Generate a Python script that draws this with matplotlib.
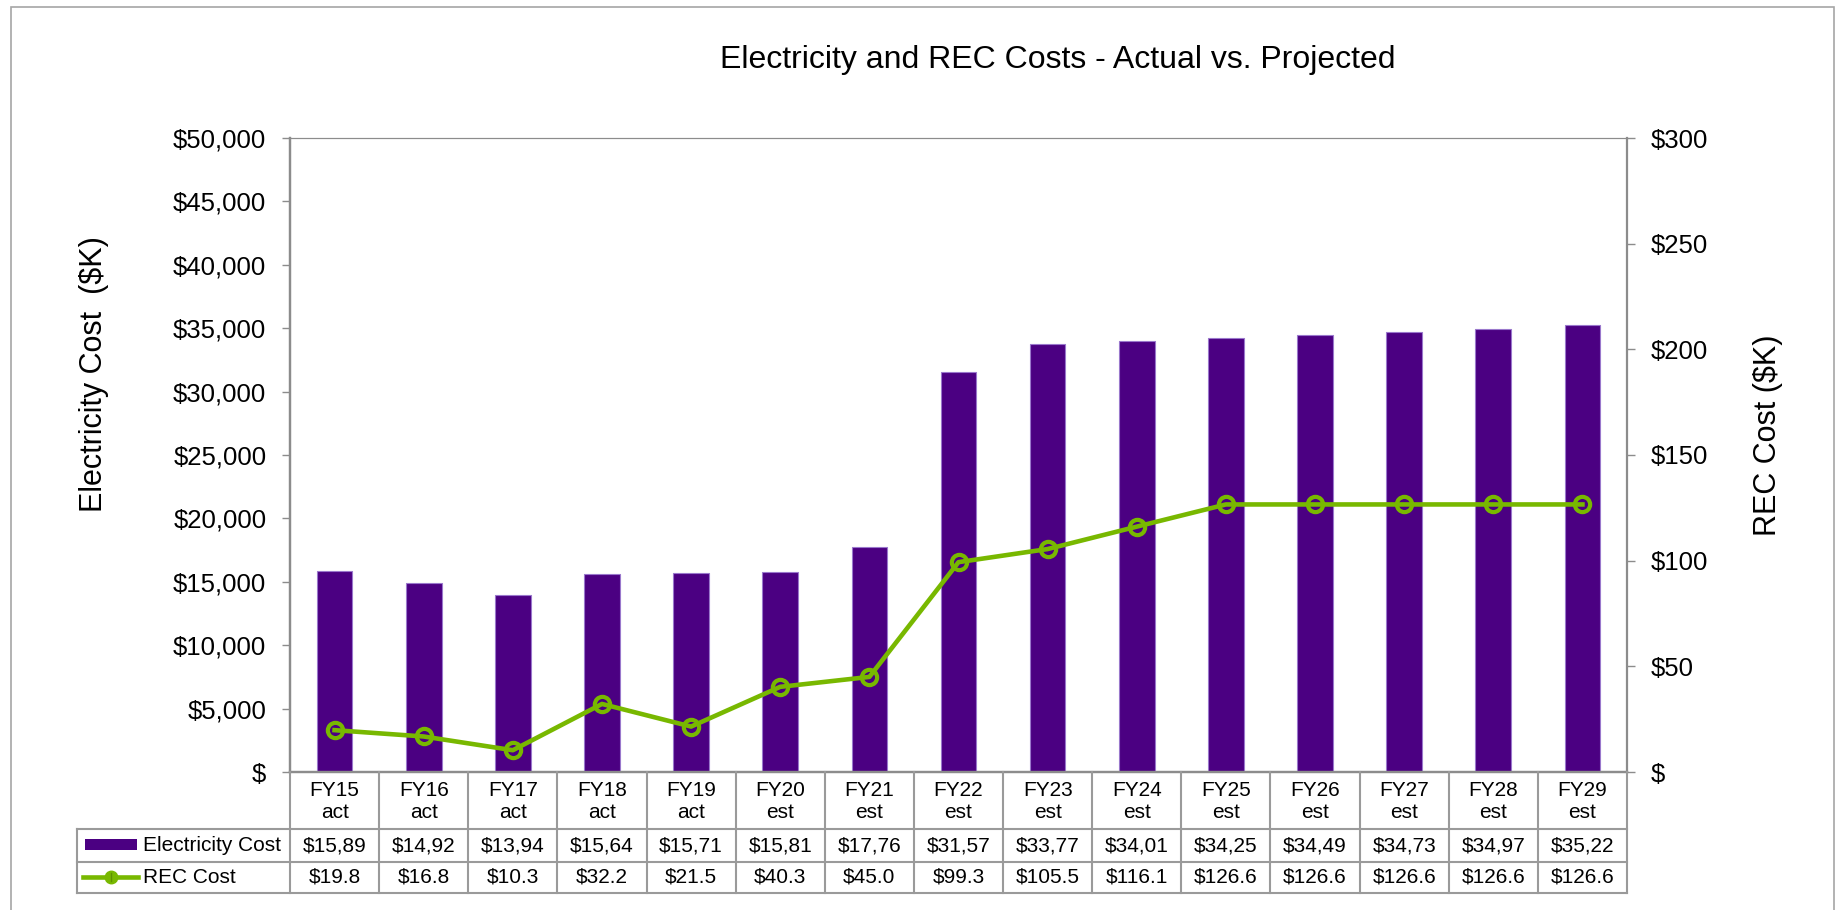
#!/usr/bin/env python3
# -*- coding: utf-8 -*-
"""Electricity and REC costs, actual vs. projected: bars + line with a data table underneath."""

import matplotlib

matplotlib.use("Agg")
import matplotlib.pyplot as plt
import matplotlib.transforms as mtransforms
from matplotlib.lines import Line2D
from matplotlib.patches import Rectangle
from matplotlib.ticker import FuncFormatter, MultipleLocator

years = ["FY15", "FY16", "FY17", "FY18", "FY19", "FY20", "FY21", "FY22",
         "FY23", "FY24", "FY25", "FY26", "FY27", "FY28", "FY29"]
status = ["act", "act", "act", "act", "act", "est", "est", "est",
          "est", "est", "est", "est", "est", "est", "est"]
# $K
electricity_cost = [15890, 14920, 13940, 15640, 15710, 15810, 17760, 31570,
                    33770, 34010, 34250, 34490, 34730, 34970, 35220]
rec_cost = [19.8, 16.8, 10.3, 32.2, 21.5, 40.3, 45.0, 99.3,
            105.5, 116.1, 126.6, 126.6, 126.6, 126.6, 126.6]

PURPLE = "#4B0082"
GREEN = "#78B800"
GRID_GRAY = "#8c8c8c"
TABLE_GRAY = "#9a9a9a"

W, H = 1836, 910


def fx(px):
    return px / W


def fy(py):
    # pixel row measured from the top -> figure fraction
    return 1.0 - py / H


def dollar(v, _pos=None):
    return "$" if v == 0 else f"${v:,.0f}"


def main():
    plt.rcParams["font.family"] = ["Liberation Sans", "DejaVu Sans"]

    fig = plt.figure(figsize=(W / 100, H / 100), dpi=100)
    # plot area in pixels: x 290..1627, y 138..772
    ax = fig.add_axes([fx(290), fy(772), fx(1627 - 290), (772 - 138) / H])
    ax2 = ax.twinx()

    x = list(range(len(years)))
    ax.bar(x, electricity_cost, width=0.40, color=PURPLE, edgecolor="#9a78cc",
           linewidth=0.8, zorder=2)
    ax2.plot(x, rec_cost, color=GREEN, linewidth=3.3, marker="o", markersize=11,
             markerfacecolor="none", markeredgecolor=GREEN, markeredgewidth=3.0,
             zorder=3)

    ax.set_xlim(-0.5, len(years) - 0.5)
    ax.set_ylim(0, 50000)
    ax2.set_ylim(0, 300)
    ax.yaxis.set_major_locator(MultipleLocator(5000))
    ax2.yaxis.set_major_locator(MultipleLocator(50))
    ax.yaxis.set_major_formatter(FuncFormatter(dollar))
    ax2.yaxis.set_major_formatter(FuncFormatter(dollar))
    ax.set_xticks([])

    for a in (ax, ax2):
        a.tick_params(axis="y", direction="out", length=6, width=1,
                      color=GRID_GRAY, labelsize=18.5, pad=11)
        for side, sp in a.spines.items():
            sp.set_color(GRID_GRAY)
            sp.set_linewidth(0.8 if side == "top" else 1.6)
    ax.spines["right"].set_visible(False)

    ax.set_ylabel("Electricity Cost  ($K)", fontsize=22, va="center")
    ax.yaxis.set_label_coords((94 - 290) / 1337, (772 - 374) / 634)
    ax2.set_ylabel("REC Cost ($K)", fontsize=22, va="center")
    ax2.yaxis.set_label_coords((1768 - 290) / 1337, (772 - 435) / 634)

    fig.suptitle("Electricity and REC Costs - Actual vs. Projected", fontsize=23,
                 x=fx(1058), y=fy(60), va="center")

    # data table below the plot, columns share the category x scale
    tr = mtransforms.blended_transform_factory(ax.transData, fig.transFigure)
    row_top, row1, row2, row3 = 772, 829, 862, 893
    n = len(years)
    for i in range(n + 1):
        fig.add_artist(Line2D([i - 0.5, i - 0.5], [fy(row_top), fy(row3)],
                              transform=tr, color=TABLE_GRAY, linewidth=1.5))
    for yy in (row1, row2, row3):
        fig.add_artist(Line2D([fx(77), fx(1627)], [fy(yy), fy(yy)],
                              color=TABLE_GRAY, linewidth=1.5))
    fig.add_artist(Line2D([fx(77), fx(77)], [fy(row1), fy(row3)],
                          color=TABLE_GRAY, linewidth=1.5))

    for i in range(n):
        fig.text(i, fy((row_top + row1) / 2 + 1), f"{years[i]}\n{status[i]}",
                 transform=tr, ha="center", va="center", fontsize=15,
                 linespacing=1.15)
        # Excel clips the last digit of the cost in these narrow cells
        fig.text(i, fy((row1 + row2) / 2), dollar(electricity_cost[i])[:6],
                 transform=tr, ha="center", va="center", fontsize=15)
        fig.text(i, fy((row2 + row3) / 2), f"${rec_cost[i]:.1f}",
                 transform=tr, ha="center", va="center", fontsize=15)

    # legend keys in the first table column
    fig.add_artist(Rectangle((fx(85), fy(850)), fx(137 - 85), (850 - 839) / H,
                             transform=fig.transFigure, facecolor=PURPLE,
                             edgecolor="none"))
    fig.text(fx(143), fy((row1 + row2) / 2), "Electricity Cost", ha="left",
             va="center", fontsize=15)
    fig.add_artist(Line2D([fx(83), fx(138)], [fy(877), fy(877)], color=GREEN,
                          linewidth=3.3))
    fig.add_artist(Line2D([fx(110.5)], [fy(877)], color=GREEN, marker="o",
                          markersize=9, markerfacecolor=GREEN,
                          markeredgecolor=GREEN, linestyle="none"))
    fig.add_artist(Line2D([fx(110.5), fx(110.5)], [fy(873), fy(881)],
                          color="#5e9000", linewidth=1.0))
    fig.text(fx(143), fy((row2 + row3) / 2), "REC Cost", ha="left",
             va="center", fontsize=15)

    # chart area border
    fig.add_artist(Rectangle((fx(11), fy(915)), fx(1834 - 11), (915 - 7) / H,
                             transform=fig.transFigure, facecolor="none",
                             edgecolor="#a6a6a6", linewidth=1.2))

    fig.savefig("out.png", dpi=100)


if __name__ == "__main__":
    main()
